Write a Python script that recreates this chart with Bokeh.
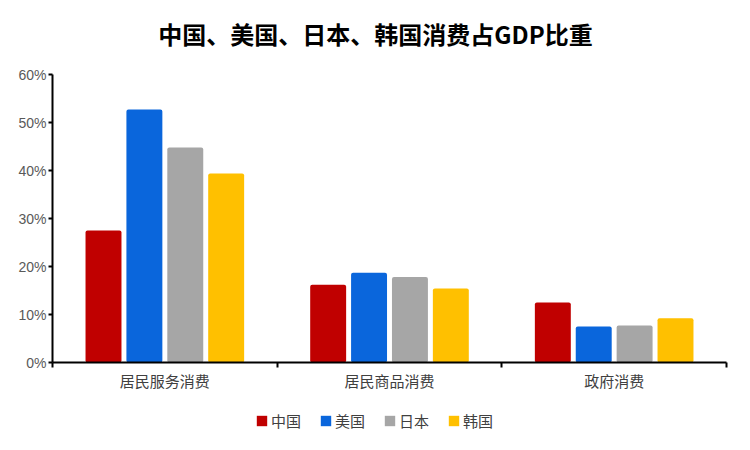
from bokeh.plotting import figure
from bokeh.layouts import column
from bokeh.models import (ColumnDataSource, FixedTicker, PrintfTickFormatter,
                          Range1d, Legend, LegendItem, Label)
from bokeh.embed import file_html
from bokeh.resources import INLINE
from bokeh.transform import dodge

title_text = "中国、美国、日本、韩国消费占GDP比重"
categories = ["居民服务消费", "居民商品消费", "政府消费"]
countries = ["中国", "美国", "日本", "韩国"]
china = [27.5, 16.2, 12.5]
usa = [52.7, 18.7, 7.5]
japan = [44.8, 17.8, 7.7]
korea = [39.4, 15.4, 9.2]
colors = ["#C00000", "#0A66DC", "#A6A6A6", "#FFC000"]
y_ticks = [0, 10, 20, 30, 40, 50, 60]

xpos = [i + 0.5 for i in range(len(categories))]
src = ColumnDataSource(dict(x=xpos, cn=china, us=usa, jp=japan, kr=korea))
keys = ["cn", "us", "jp", "kr"]
offsets = [-0.273, -0.091, 0.091, 0.273]


def strip(height, yr):
    f = figure(width=734, height=height, output_backend="svg", toolbar_location=None,
               x_range=Range1d(0, len(categories)), y_range=yr,
               min_border_left=52, min_border_right=8, min_border_top=0,
               min_border_bottom=0)
    f.axis.visible = False
    f.grid.visible = False
    f.outline_line_color = None
    return f


# title strip
pt = strip(66, Range1d(0, 1))
pt.add_layout(Label(x=323, y=33, x_units="screen", y_units="screen", text=title_text,
                    text_align="center", text_baseline="middle",
                    text_font="Noto Sans CJK SC", text_font_style="bold",
                    text_font_size="24px", text_color="#000000"))

# main chart
p = figure(width=734, height=334, output_backend="svg", toolbar_location=None,
           x_range=Range1d(0, len(categories)), y_range=Range1d(0, 60),
           min_border_left=52, min_border_right=8, min_border_top=8,
           min_border_bottom=38)

for k, off, c in zip(keys, offsets, colors):
    p.vbar(x=dodge("x", off), top=k, width=0.16, source=src,
           fill_color=c, line_color=None, border_radius=2)

p.xgrid.visible = False
p.ygrid.visible = False
p.outline_line_color = None

p.yaxis.ticker = FixedTicker(ticks=y_ticks)
p.yaxis.formatter = PrintfTickFormatter(format="%d%%")
p.yaxis.axis_line_color = "#000000"
p.yaxis.axis_line_width = 2
p.yaxis.major_tick_line_color = "#000000"
p.yaxis.major_tick_line_width = 2
p.yaxis.major_tick_in = 0
p.yaxis.major_tick_out = 4
p.yaxis.minor_tick_line_color = None
p.yaxis.major_label_text_font = "Liberation Sans"
p.yaxis.major_label_text_font_size = "14px"
p.yaxis.major_label_text_color = "#595959"
p.yaxis.major_label_standoff = 2

p.xaxis.ticker = FixedTicker(ticks=xpos, minor_ticks=list(range(len(categories) + 1)))
p.xaxis.major_label_overrides = {x: c for x, c in zip(xpos, categories)}
p.xaxis.axis_line_color = "#000000"
p.xaxis.axis_line_width = 2
p.xaxis.major_tick_line_color = None
p.xaxis.minor_tick_line_color = "#000000"
p.xaxis.minor_tick_line_width = 2
p.xaxis.minor_tick_in = 0
p.xaxis.minor_tick_out = 5
p.xaxis.major_label_text_font = "Noto Sans CJK SC"
p.xaxis.major_label_text_font_size = "15px"
p.xaxis.major_label_text_color = "#404040"
p.xaxis.major_label_standoff = 1

# legend strip (same series drawn out of view, so only the legend shows)
pl = strip(34, Range1d(1000, 1001))
lrs = [pl.vbar(x=dodge("x", off), top=k, width=0.16, source=src,
               fill_color=c, line_color=None, border_radius=2)
       for k, off, c in zip(keys, offsets, colors)]
legend = Legend(items=[LegendItem(label=n, renderers=[r]) for n, r in zip(countries, lrs)],
                orientation="horizontal", location=(203, 3),
                padding=0, margin=0, spacing=18, glyph_width=13, glyph_height=13,
                label_standoff=3, label_text_font="Noto Sans CJK SC",
                label_text_font_size="15px", label_text_color="#404040",
                border_line_color=None, background_fill_alpha=0)
pl.add_layout(legend, "center")

open("out.html", "w").write(file_html(column(pt, p, pl, spacing=0), INLINE))
